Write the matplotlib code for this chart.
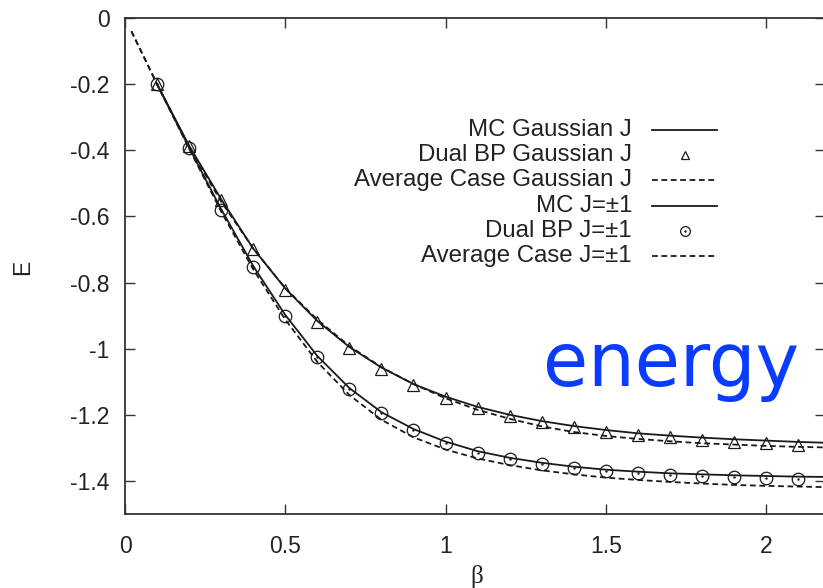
import matplotlib
matplotlib.use("Agg")
import matplotlib.pyplot as plt
import numpy as np

plt.rcParams['font.family'] = ['Liberation Sans', 'DejaVu Sans']
plt.rcParams['axes.unicode_minus'] = False

# ---- data ----
beta_bp = [0.1, 0.2, 0.3, 0.4, 0.5, 0.6, 0.7, 0.8, 0.9, 1.0, 1.1,
           1.2, 1.3, 1.4, 1.5, 1.6, 1.7, 1.8, 1.9, 2.0, 2.1]
dualbp_gauss = [-0.20, -0.388, -0.55, -0.70, -0.822, -0.92, -0.998, -1.06, -1.11, -1.148, -1.18,
                -1.205, -1.222, -1.237, -1.252, -1.261, -1.267, -1.276, -1.282, -1.285, -1.291]
dualbp_pm1 = [-0.20, -0.393, -0.58, -0.752, -0.90, -1.025, -1.122, -1.195, -1.246, -1.285, -1.315,
              -1.334, -1.349, -1.362, -1.370, -1.377, -1.382, -1.385, -1.388, -1.391, -1.393]

beta_mc = [0.1, 0.2, 0.3, 0.4, 0.5, 0.6, 0.7, 0.8, 0.9, 1.0, 1.1,
           1.2, 1.3, 1.4, 1.5, 1.6, 1.7, 1.8, 1.9, 2.0, 2.1, 2.2]
mc_gauss = [-0.20, -0.386, -0.548, -0.697, -0.818, -0.916, -0.995, -1.057, -1.107, -1.145, -1.176,
            -1.200, -1.219, -1.234, -1.246, -1.256, -1.263, -1.269, -1.274, -1.278, -1.282, -1.285]
mc_pm1 = [-0.20, -0.392, -0.578, -0.750, -0.898, -1.022, -1.119, -1.192, -1.243, -1.281, -1.310,
          -1.330, -1.345, -1.357, -1.366, -1.372, -1.377, -1.380, -1.383, -1.385, -1.387, -1.388]

beta_avg = [0.02, 0.1, 0.2, 0.3, 0.4, 0.5, 0.6, 0.7, 0.8, 0.9, 1.0, 1.1,
            1.2, 1.3, 1.4, 1.5, 1.6, 1.7, 1.8, 1.9, 2.0, 2.1, 2.2]
avg_gauss = [-0.04, -0.20, -0.39, -0.555, -0.697, -0.817, -0.912, -0.992, -1.056, -1.107, -1.150, -1.185,
             -1.212, -1.235, -1.252, -1.264, -1.273, -1.280, -1.286, -1.290, -1.294, -1.297, -1.299]
avg_pm1 = [-0.04, -0.20, -0.395, -0.585, -0.76, -0.912, -1.04, -1.14, -1.215, -1.268, -1.305, -1.332,
           -1.352, -1.368, -1.380, -1.390, -1.397, -1.403, -1.408, -1.412, -1.415, -1.417, -1.419]

xticks = [0, 0.5, 1, 1.5, 2]
xticklabels = ["0", "0.5", "1", "1.5", "2"]
yticks = [0, -0.2, -0.4, -0.6, -0.8, -1.0, -1.2, -1.4]
yticklabels = ["0", "-0.2", "-0.4", "-0.6", "-0.8", "-1", "-1.2", "-1.4"]

labels = ["MC Gaussian J", "Dual BP Gaussian J", "Average Case Gaussian J",
          "MC J=\u00b11", "Dual BP J=\u00b11", "Average Case J=\u00b11"]

# ---- figure ----
W, H = 823, 588
fig = plt.figure(figsize=(W / 100, H / 100), dpi=100)
ax_l, ax_r, ax_t, ax_b = 125, 825, 18, 514
ax = fig.add_axes([ax_l / W, (H - ax_b) / H, (ax_r - ax_l) / W, (ax_b - ax_t) / H])
ax.set_xlim(0, (ax_r - ax_l) / 320.5)
ax.set_ylim(-1.5, 0)

lc = '#1a1a1a'
lw = 1.3
dash = (0, (3.2, 2.0))
ms_tri = 8
ms_circ = 9

ax.plot(beta_mc, mc_gauss, color=lc, lw=lw, ls='-')
ax.plot(beta_bp, dualbp_gauss, ls='none', marker='^', ms=ms_tri, mfc='none', mec=lc, mew=0.9)
ax.plot(beta_avg, avg_gauss, color=lc, lw=lw, ls=dash)
ax.plot(beta_mc, mc_pm1, color=lc, lw=lw, ls='-')
ax.plot(beta_bp, dualbp_pm1, ls='none', marker='o', ms=ms_circ, mfc='none', mec=lc, mew=0.9)
ax.plot(beta_bp, dualbp_pm1, ls='none', marker='.', ms=1.5, color=lc)
ax.plot(beta_avg, avg_pm1, color=lc, lw=lw, ls=dash)

# axes styling
for s in ax.spines.values():
    s.set_linewidth(1.3)
    s.set_color('#333333')
ax.set_xticks(xticks)
ax.set_xticklabels(xticklabels)
ax.set_yticks(yticks)
ax.set_yticklabels(yticklabels)
ax.tick_params(direction='in', length=7, width=1.0, color='#333333',
               top=True, right=True, labelsize=16.5, labelcolor='#222222')
ax.tick_params(axis='x', pad=15)
ax.tick_params(axis='y', pad=11)

fig.text(23 / W, 1 - 267 / H, "E", rotation=90, fontsize=16.5, color='#222222',
         ha='center', va='center')
fig.text(477 / W, 1 - 577 / H, "\u03b2", fontsize=18, color='#222222',
         ha='center', va='center', family=['Liberation Serif', 'DejaVu Serif'])

# gnuplot-style key (text right-aligned, sample to the right)
def fx(px):
    return (px - ax_l) / (ax_r - ax_l)

def fy(py):
    return (ax_b - py) / (ax_b - ax_t)

styles = [dict(ls='-', lw=lw), dict(ls='none', marker='^', ms=6, mfc='none', mew=0.9),
          dict(ls=dash, lw=lw), dict(ls='-', lw=lw),
          dict(ls='none', marker='o', ms=7, mfc='none', mew=0.9), dict(ls=dash, lw=lw)]
for i, (lab, st) in enumerate(zip(labels, styles)):
    y = 130 + 25.2 * i
    ax.text(fx(632), fy(y), lab, transform=ax.transAxes, ha='right', va='center',
            fontsize=17.3, color='#222222')
    if st.get('marker'):
        ax.plot([fx(685)], [fy(y)], transform=ax.transAxes, color=lc, mec=lc, clip_on=False, **st)
        if st['marker'] == 'o':
            ax.plot([fx(685)], [fy(y)], transform=ax.transAxes, ls='none', marker='.', ms=1.5,
                    color=lc, clip_on=False)
    else:
        ax.plot([fx(652), fx(717)], [fy(y), fy(y)], transform=ax.transAxes, color=lc,
                clip_on=False, **st)

ax.text(fx(671), fy(365), "energy", transform=ax.transAxes, ha='center', va='center',
        fontsize=53, color='#0a3cff', family=['DejaVu Sans'])

fig.savefig("out.png", dpi=100)
